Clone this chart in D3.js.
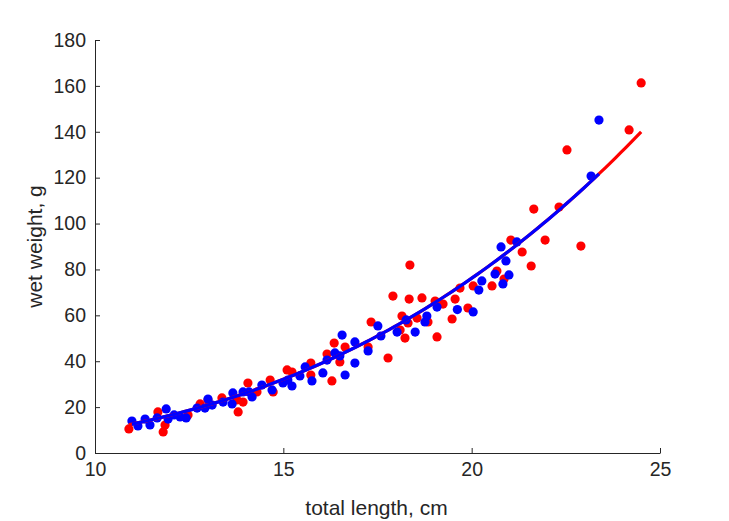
<!DOCTYPE html>
<html>
<head>
<meta charset="utf-8">
<script src="https://cdn.jsdelivr.net/npm/d3@7"></script>
<style>
  html, body { margin: 0; padding: 0; background: #fff; }
  svg { display: block; }
  text { font-family: "Liberation Sans", Arial, Helvetica, sans-serif; }
</style>
</head>
<body>
<svg id="chart" width="729" height="521"></svg>
<script>
// ---- data ----
const redLength = [10.90, 11.67, 11.81, 11.86, 12.47, 12.79, 13.00, 13.37, 13.77, 13.93, 13.80, 14.06, 14.30, 14.65, 14.73,
  15.10, 15.23, 15.73, 15.73, 16.29, 16.16, 16.35, 16.50, 16.64, 17.25, 17.33, 17.78, 18.10, 18.23, 18.31, 18.15, 18.55,
  18.84, 19.08, 17.91, 18.34, 18.36, 18.68, 19.03, 19.24, 19.56, 19.48, 19.69, 19.90, 20.04, 20.54, 20.67, 20.86, 21.04,
  21.34, 21.58, 21.65, 21.95, 22.32, 22.53, 22.90, 24.18, 24.50];
const redWeight = [10.5, 17.9, 9.2, 12.2, 16.6, 21.4, 23.1, 24.0, 23.1, 22.2, 17.9, 30.5, 26.6, 31.8, 26.6,
  36.2, 35.3, 39.2, 34.0, 31.4, 43.1, 47.9, 39.7, 46.2, 46.2, 57.1, 41.4, 53.6, 50.1, 56.7, 59.7, 58.8,
  57.1, 50.6, 68.4, 67.1, 81.9, 67.6, 66.2, 64.9, 67.1, 58.4, 71.9, 63.2, 72.8, 72.8, 79.3, 75.8, 92.8,
  87.6, 81.5, 106.3, 92.8, 107.2, 132.1, 90.2, 140.8, 161.3];

const blueLength = [10.98, 11.14, 11.33, 11.46, 11.65, 11.89, 11.94, 12.10, 12.26, 12.42, 12.71, 12.92, 13.00, 13.11,
  13.40, 13.64, 13.66, 13.93, 14.09, 14.17, 14.43, 14.70, 14.99, 15.12, 15.23, 15.44, 15.58, 15.76, 16.05, 16.16,
  16.37, 16.50, 16.56, 16.64, 16.90, 16.90, 17.25, 17.51, 17.59, 18.02, 18.26, 18.50, 18.76, 18.81, 19.08, 19.62,
  20.04, 20.19, 20.27, 20.62, 20.78, 20.83, 20.91, 20.99, 21.20, 23.17, 23.38];
const blueWeight = [13.9, 11.8, 14.8, 12.2, 15.3, 19.2, 14.8, 16.6, 15.7, 15.3, 19.6, 19.6, 23.5, 20.9,
  22.2, 21.4, 26.2, 26.6, 26.6, 24.4, 29.6, 27.5, 30.5, 31.8, 29.2, 33.6, 37.5, 31.4, 34.9, 40.5,
  43.6, 42.3, 51.4, 34.0, 48.4, 39.2, 44.5, 55.4, 51.0, 52.7, 58.0, 52.7, 57.1, 59.7, 63.6, 62.5,
  61.5, 71.0, 75.0, 78.0, 89.8, 73.7, 83.7, 77.6, 92.0, 120.7, 145.1];

// fitted power curves W = a * L^b
const redFit = { a: 0.00952, b: 3.0, from: 10.90, to: 24.50 };
const blueFit = { a: 0.00952, b: 3.0, from: 10.98, to: 23.38 };

const xTicks = [10, 15, 20, 25];
const yTicks = [0, 20, 40, 60, 80, 100, 120, 140, 160, 180];

// ---- layout ----
const svg = d3.select("#chart");
const mLeft = 95, mRight = 660, mTop = 40, mBottom = 453;
const axisColor = "#262626";

const x = d3.scaleLinear().domain([10, 25]).range([mLeft, mRight]);
const y = d3.scaleLinear().domain([0, 180]).range([mBottom, mTop]);

// points
const red = d3.zip(redLength, redWeight);
const blue = d3.zip(blueLength, blueWeight);

svg.append("g").selectAll("circle").data(red).join("circle")
  .attr("cx", d => x(d[0])).attr("cy", d => y(d[1])).attr("r", 4.6).attr("fill", "#ff0000");
svg.append("g").selectAll("circle").data(blue).join("circle")
  .attr("cx", d => x(d[0])).attr("cy", d => y(d[1])).attr("r", 4.6).attr("fill", "#0000ff");

// fit curves
function curvePts(f) {
  const n = 100, pts = [];
  for (let i = 0; i <= n; i++) {
    const L = f.from + (f.to - f.from) * i / n;
    pts.push([L, f.a * Math.pow(L, f.b)]);
  }
  return pts;
}
const line = d3.line().x(d => x(d[0])).y(d => y(d[1]));
svg.append("path").attr("d", line(curvePts(redFit))).attr("fill", "none")
  .attr("stroke", "#ff0000").attr("stroke-width", 3.2);
svg.append("path").attr("d", line(curvePts(blueFit))).attr("fill", "none")
  .attr("stroke", "#0000ff").attr("stroke-width", 3.2);

// axes
const xAxis = d3.axisBottom(x).tickValues(xTicks).tickFormat(d3.format("d"))
  .tickSizeInner(-5).tickSizeOuter(0).tickPadding(9);
const yAxis = d3.axisLeft(y).tickValues(yTicks).tickFormat(d3.format("d"))
  .tickSizeInner(-5).tickSizeOuter(0).tickPadding(9);

const gx = svg.append("g").attr("transform", `translate(0,${mBottom})`).call(xAxis);
const gy = svg.append("g").attr("transform", `translate(${mLeft},0)`).call(yAxis);
[gx, gy].forEach(g => {
  g.select(".domain").attr("stroke", axisColor).attr("stroke-width", 1);
  g.selectAll(".tick line").attr("stroke", axisColor).attr("stroke-width", 1);
  g.selectAll(".tick text").attr("fill", axisColor).style("font-size", "19.5px");
});

// axis titles
svg.append("text").attr("x", (mLeft + mRight) / 2 - 1).attr("y", 515)
  .attr("text-anchor", "middle").attr("fill", axisColor).style("font-size", "21px")
  .text("total length, cm");
svg.append("text").attr("transform", `translate(42,${(mTop + mBottom) / 2}) rotate(-90)`)
  .attr("text-anchor", "middle").attr("fill", axisColor).style("font-size", "21px")
  .text("wet weight, g");
</script>
</body>
</html>
